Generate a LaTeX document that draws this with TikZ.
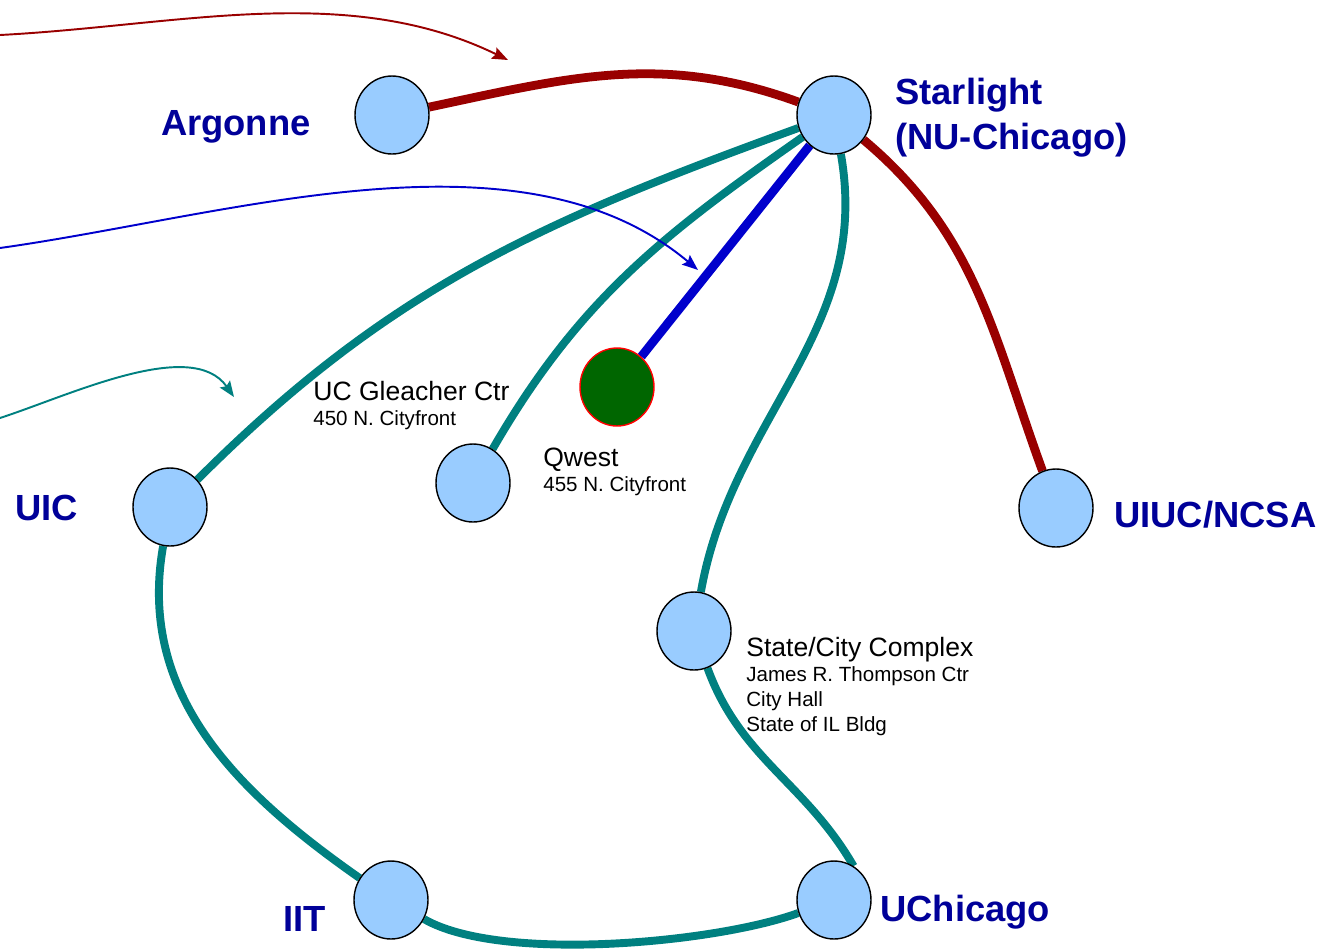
\documentclass[tikz,border=0pt]{standalone}
\usepackage{fontspec}
\setmainfont{Liberation Sans}
\usepackage{xcolor}
\usetikzlibrary{shapes,arrows.meta,positioning,backgrounds}

\definecolor{sitefill}{RGB}{153,204,255}
\definecolor{linkteal}{RGB}{0,128,128}
\definecolor{linkred}{RGB}{153,0,0}
\definecolor{linkblue}{RGB}{0,0,204}
\definecolor{namecol}{RGB}{0,0,153}
\definecolor{qwestgreen}{RGB}{0,102,0}

\begin{document}
\begin{tikzpicture}[
    x=0.02cm, y=0.02cm,
    site/.style={ellipse, draw, line width=0.8pt, fill=sitefill, minimum width=1.48cm, minimum height=1.56cm, inner sep=0pt},
    pop/.style={site, draw=red, fill=qwestgreen},
    sitename/.style={font=\fontsize{20.7}{25.5}\selectfont\bfseries, text=namecol, inner sep=0pt, align=left},
    placelabel/.style={font=\fontsize{11.7}{14.2}\selectfont, inner sep=0pt, align=left, anchor=north west},
    redlink/.style={line width=5pt, linkred},
    teallink/.style={line width=4.5pt, linkteal},
    bluelink/.style={line width=5pt, linkblue},
    feed/.style={-{Stealth[length=9pt, width=7pt, inset=1.5pt]}, line width=1.1pt}
]
    \useasboundingbox (0,0) rectangle (1323,-948);

    % sites
    \node[site] (argonne) at (392,-115) {};
    \node[site] (starlight) at (834,-115) {};
    \node[pop] (qwest) at (617,-387) {};
    \node[site] (gleacher) at (473,-483) {};
    \node[site] (uic) at (170,-507) {};
    \node[site] (uiuc) at (1056,-508) {};
    \node[site] (statecity) at (694,-631) {};
    \node[site] (iit) at (391,-900) {};
    \node[site] (uchicago) at (834,-900) {};

    % labels
    \node[sitename, anchor=base east] (argonnelabel) at (311,-135) {Argonne};
    \node[sitename, anchor=north west] (starlightlabel) at (895,-78) {Starlight\\(NU-Chicago)};
    \node[sitename, anchor=base west] (uiclabel) at (15,-520) {UIC};
    \node[sitename, anchor=base west] (uiuclabel) at (1114,-527) {UIUC/NCSA};
    \node[sitename, anchor=base west] (iitlabel) at (283,-931) {IIT};
    \node[sitename, anchor=base west] (uchicagolabel) at (880,-921) {UChicago};
    \node[placelabel] (gleacherlabel) at (313,-381) {{\fontsize{15.1}{18}\selectfont UC Gleacher Ctr}\\450 N. Cityfront};
    \node[placelabel] (qwestlabel) at (543,-448) {{\fontsize{15.1}{18}\selectfont Qwest}\\455 N. Cityfront};
    \node[placelabel] (statelabel) at (746,-637) {{\fontsize{15.1}{18}\selectfont State/City Complex}\\James R. Thompson Ctr\\City Hall\\State of IL Bldg};

    % incoming feeds
    \coordinate (redfeed) at (0,-35);
    \coordinate (redtip) at (508,-60);
    \coordinate (bluefeed) at (0,-248);
    \coordinate (bluetip) at (698,-270);
    \coordinate (tealfeed) at (0,-418);
    \coordinate (tealtip) at (234,-397);

    \begin{scope}[on background layer]
        \draw[redlink] (argonne) to[out=12, in=160] (starlight);
        \draw[redlink] (starlight) to[out=-40, in=110] (uiuc);
        \draw[bluelink] (starlight) -- (qwest);
        \draw[teallink] (starlight) to[out=200, in=45] (uic);
        \draw[teallink] (starlight) to[out=215, in=60] (gleacher);
        \draw[teallink] (starlight) to[out=-80, in=80] (statecity);
        \draw[teallink] (uic) to[out=-100, in=145] (iit);
        \draw[teallink] (iit) to[out=-30, in=200, looseness=0.6] (uchicago);
        \draw[teallink] (statecity) to[out=-70, in=120] (uchicago.60);
    \end{scope}

    \draw[feed, linkred] (redfeed) to[out=3, in=154, looseness=0.9] (redtip);
    \draw[feed, linkblue] (bluefeed) to[out=8, in=140, looseness=0.85] (bluetip);
    \draw[feed, linkteal] (tealfeed) to[out=18, in=125, looseness=0.8] (tealtip);
\end{tikzpicture}
\end{document}
